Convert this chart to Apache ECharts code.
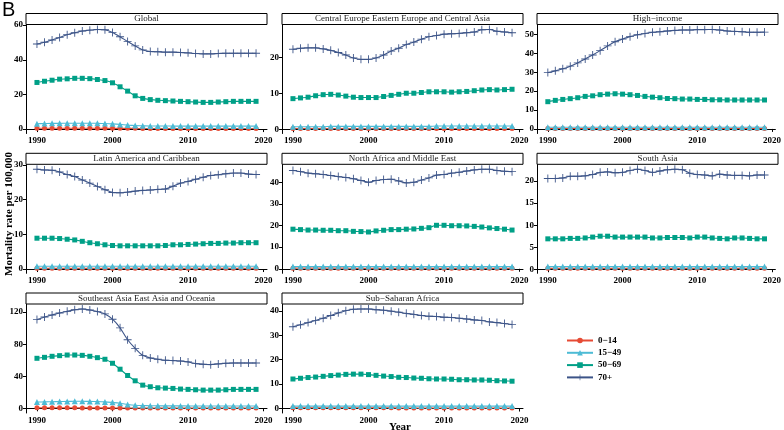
<!DOCTYPE html>
<html><head><meta charset="utf-8">
<script src="https://cdn.jsdelivr.net/npm/echarts@6/dist/echarts.min.js"></script>
<style>html,body{margin:0;padding:0;background:#fff}#c{width:784px;height:430px}</style>
</head><body><div id="c"></div>
<script>
const years = [1990,1991,1992,1993,1994,1995,1996,1997,1998,1999,2000,2001,2002,2003,2004,2005,2006,2007,2008,2009,2010,2011,2012,2013,2014,2015,2016,2017,2018,2019];
const ageGroups = ['0−14','15−49','50−69','70+'];
const panelTitles = ['Global','Central Europe Eastern Europe and Central Asia','High−income','Latin America and Caribbean','North Africa and Middle East','South Asia','Southeast Asia East Asia and Oceania','Sub−Saharan Africa'];
const xTicks = [1990,2000,2010,2020];
const yTicks = [[0,20,40,60],[0,10,20],[0,10,20,30,40,50],[0,10,20,30],[0,10,20,30,40],[0,5,10,15,20],[0,40,80,120],[0,10,20,30,40]];

// Global
const global_0_14 = [0.5,0.5,0.5,0.5,0.5,0.5,0.5,0.5,0.5,0.4,0.4,0.4,0.4,0.4,0.3,0.3,0.3,0.3,0.3,0.3,0.3,0.3,0.3,0.3,0.3,0.3,0.3,0.3,0.3,0.3];
const global_15_49 = [3.1,3.2,3.3,3.3,3.4,3.4,3.4,3.4,3.3,3.2,3.0,2.7,2.3,2.0,1.9,1.8,1.8,1.8,1.7,1.7,1.7,1.7,1.7,1.7,1.7,1.7,1.7,1.7,1.7,1.7];
const global_50_69 = [26.9,27.6,28.2,28.8,29.0,29.3,29.3,29.1,28.6,28.0,26.7,24.4,21.9,19.2,17.7,17.0,16.6,16.4,16.2,16.0,15.8,15.6,15.4,15.4,15.6,15.8,16.0,16.0,16.0,16.0];
const global_70 = [49.1,50.1,51.4,52.8,54.5,55.6,56.6,57.1,57.5,57.3,55.8,53.3,50.5,48.0,45.7,44.8,44.6,44.4,44.4,44.2,44.0,43.6,43.4,43.4,43.6,43.8,43.8,43.8,43.8,43.8];
// Central Europe Eastern Europe and Central Asia
const ce_0_14 = [0.2,0.2,0.2,0.2,0.2,0.2,0.2,0.2,0.2,0.2,0.2,0.2,0.2,0.2,0.2,0.2,0.2,0.2,0.2,0.2,0.2,0.2,0.2,0.2,0.2,0.2,0.2,0.2,0.2,0.2];
const ce_15_49 = [0.7,0.7,0.7,0.7,0.7,0.8,0.8,0.8,0.8,0.8,0.8,0.8,0.8,0.8,0.8,0.8,0.8,0.8,0.8,0.9,0.9,0.9,0.9,0.9,0.9,0.9,0.9,0.9,0.9,0.9];
const ce_50_69 = [8.5,8.7,8.9,9.3,9.6,9.7,9.5,9.2,8.9,8.8,8.8,8.8,9.1,9.4,9.7,10.0,10.0,10.2,10.4,10.4,10.4,10.3,10.4,10.5,10.7,10.9,11.0,10.9,11.0,11.1];
const ce_70 = [22.2,22.5,22.6,22.6,22.3,21.9,21.3,20.6,19.8,19.4,19.4,19.8,20.6,21.7,22.5,23.5,24.2,25.0,25.7,26.0,26.4,26.5,26.6,26.8,27.0,27.6,27.7,27.2,27.0,26.8];
// High-income
const hi_0_14 = [0.2,0.2,0.2,0.2,0.2,0.2,0.2,0.2,0.2,0.2,0.2,0.2,0.2,0.2,0.2,0.2,0.2,0.2,0.2,0.2,0.2,0.2,0.2,0.2,0.2,0.2,0.2,0.2,0.2,0.2];
const hi_15_49 = [0.9,0.9,0.9,0.9,0.9,0.9,0.9,0.9,0.9,0.9,0.9,0.9,0.9,0.9,0.9,0.9,0.9,0.9,0.9,0.9,0.9,0.9,0.9,0.9,0.9,0.9,0.9,0.9,0.9,0.9];
const hi_50_69 = [14.4,15.1,15.6,16.0,16.5,17.2,17.5,18.1,18.4,18.6,18.4,18.1,17.7,17.2,16.8,16.5,16.1,16.0,15.8,15.8,15.6,15.6,15.4,15.4,15.3,15.3,15.3,15.3,15.3,15.3];
const hi_70 = [29.8,30.7,31.8,33.2,34.9,37.0,39.1,41.4,43.9,46.1,47.5,48.8,49.8,50.5,51.1,51.4,51.8,52.1,52.3,52.3,52.5,52.5,52.6,52.3,51.8,51.6,51.4,51.1,51.1,51.2];
// Latin America and Caribbean
const la_0_14 = [0.2,0.2,0.2,0.2,0.2,0.2,0.2,0.2,0.2,0.2,0.2,0.2,0.2,0.2,0.2,0.2,0.2,0.2,0.2,0.2,0.2,0.2,0.2,0.2,0.2,0.2,0.2,0.2,0.2,0.2];
const la_15_49 = [0.8,0.8,0.8,0.8,0.8,0.8,0.8,0.8,0.8,0.8,0.8,0.8,0.8,0.8,0.8,0.8,0.8,0.8,0.8,0.8,0.8,0.8,0.8,0.8,0.8,0.8,0.8,0.8,0.8,0.8];
const la_50_69 = [8.9,8.9,8.9,8.8,8.6,8.4,8.0,7.6,7.3,7.0,6.8,6.7,6.7,6.7,6.7,6.7,6.7,6.8,7.0,7.0,7.1,7.2,7.3,7.4,7.4,7.5,7.5,7.6,7.6,7.6];
const la_70 = [28.8,28.6,28.5,28.0,27.3,26.7,25.7,24.8,23.8,22.9,22.1,22.0,22.2,22.5,22.7,22.8,23.0,23.1,23.9,24.8,25.3,25.9,26.5,27.0,27.2,27.5,27.7,27.7,27.4,27.3];
// North Africa and Middle East
const na_0_14 = [0.3,0.3,0.3,0.3,0.3,0.3,0.3,0.3,0.2,0.2,0.2,0.2,0.2,0.2,0.2,0.2,0.2,0.2,0.2,0.2,0.2,0.2,0.2,0.2,0.2,0.2,0.2,0.2,0.2,0.2];
const na_15_49 = [1.0,1.0,1.0,1.0,1.0,1.0,1.0,1.0,1.0,1.0,1.0,1.0,1.0,1.0,1.0,1.0,1.0,1.0,1.0,1.0,1.0,1.0,1.0,1.0,1.0,1.0,1.0,1.0,1.0,1.0];
const na_50_69 = [18.3,18.1,17.9,17.9,17.8,17.8,17.6,17.6,17.3,17.2,17.0,17.5,17.8,18.1,18.1,18.3,18.4,18.7,19.0,20.1,20.1,19.9,19.9,19.8,19.6,19.3,18.9,18.6,18.3,17.9];
const na_70 = [45.4,44.9,44.2,43.9,43.6,43.1,42.6,42.2,41.6,40.8,40.0,40.8,41.3,41.4,40.6,39.7,40.0,41.0,42.0,43.3,43.6,44.2,44.6,45.2,45.7,46.0,46.0,45.4,45.1,44.9];
// South Asia
const sa_0_14 = [0.2,0.2,0.2,0.2,0.2,0.2,0.2,0.2,0.2,0.2,0.2,0.2,0.2,0.2,0.2,0.2,0.2,0.2,0.2,0.2,0.2,0.2,0.2,0.2,0.2,0.2,0.2,0.2,0.2,0.2];
const sa_15_49 = [0.6,0.6,0.6,0.6,0.6,0.6,0.6,0.6,0.6,0.6,0.6,0.6,0.6,0.6,0.6,0.6,0.6,0.6,0.6,0.6,0.6,0.6,0.6,0.6,0.6,0.6,0.6,0.6,0.6,0.6];
const sa_50_69 = [6.9,6.9,6.9,7.0,7.0,7.1,7.3,7.5,7.5,7.3,7.3,7.3,7.3,7.3,7.1,7.1,7.2,7.2,7.2,7.1,7.3,7.3,7.1,7.0,6.9,7.1,7.1,7.0,6.9,6.9];
const sa_70 = [20.6,20.6,20.7,21.1,21.1,21.2,21.5,22.0,22.1,21.9,22.0,22.4,22.7,22.4,22.0,22.3,22.6,22.7,22.6,21.8,21.5,21.4,21.2,21.6,21.4,21.3,21.3,21.2,21.4,21.4];
// Southeast Asia East Asia and Oceania
const sea_0_14 = [0.6,0.6,0.6,0.6,0.6,0.6,0.5,0.5,0.5,0.5,0.5,0.4,0.4,0.4,0.4,0.3,0.3,0.3,0.3,0.3,0.3,0.3,0.3,0.3,0.3,0.3,0.3,0.3,0.3,0.3];
const sea_15_49 = [7.8,8.0,8.2,8.4,8.6,8.7,8.7,8.6,8.4,8.0,7.4,6.2,4.8,3.8,3.4,3.2,3.1,3.0,3.0,3.0,2.9,2.9,2.9,2.9,2.9,2.9,2.9,2.9,2.9,2.9];
const sea_50_69 = [62.4,63.6,64.9,65.7,66.5,66.5,66.1,64.9,63.2,61.2,56.2,48.8,40.9,34.3,28.9,26.9,25.6,25.2,24.8,24.0,23.6,23.1,22.7,22.7,22.7,23.1,23.6,23.6,23.6,23.6];
const sea_70 = [110.7,114.0,116.5,119.0,121.0,123.0,124.0,122.7,120.7,117.8,111.2,100.4,85.5,74.8,66.1,62.8,61.2,59.9,59.5,59.1,57.9,55.8,55.0,54.5,55.4,56.2,56.6,56.6,56.6,56.6];
// Sub-Saharan Africa
const ssa_0_14 = [0.3,0.3,0.3,0.3,0.3,0.3,0.3,0.3,0.3,0.3,0.3,0.3,0.3,0.3,0.2,0.2,0.2,0.2,0.2,0.2,0.2,0.2,0.2,0.2,0.2,0.2,0.2,0.2,0.2,0.2];
const ssa_15_49 = [1.0,1.0,1.0,1.0,1.0,1.0,1.0,1.0,1.0,1.0,1.0,1.0,1.0,1.0,1.0,1.0,1.0,1.0,1.0,1.0,1.0,1.0,1.0,1.0,1.0,1.0,1.0,1.0,1.0,1.0];
const ssa_50_69 = [12.1,12.4,12.7,12.9,13.2,13.5,13.7,14.0,14.1,14.1,13.9,13.6,13.3,13.1,12.8,12.7,12.5,12.4,12.2,12.1,12.1,12.0,11.8,11.8,11.7,11.7,11.6,11.4,11.3,11.2];
const ssa_70 = [33.5,34.3,35.2,36.1,37.0,38.1,39.2,40.1,40.7,40.8,40.8,40.5,40.3,39.9,39.5,39.0,38.6,38.1,37.8,37.7,37.4,37.3,37.0,36.7,36.3,36.1,35.5,35.2,34.8,34.4];

const panelSeries = [
  [global_0_14, global_15_49, global_50_69, global_70],
  [ce_0_14, ce_15_49, ce_50_69, ce_70],
  [hi_0_14, hi_15_49, hi_50_69, hi_70],
  [la_0_14, la_15_49, la_50_69, la_70],
  [na_0_14, na_15_49, na_50_69, na_70],
  [sa_0_14, sa_15_49, sa_50_69, sa_70],
  [sea_0_14, sea_15_49, sea_50_69, sea_70],
  [ssa_0_14, ssa_15_49, ssa_50_69, ssa_70]
];

const colors = ['#E64B35','#4DBBD5','#00A087','#3C5488'];
const plusPath = 'path://M4.45,0H5.55V4.45H10V5.55H5.55V10H4.45V5.55H0V4.45H4.45Z';
const symbols = ['circle','triangle','rect',plusPath];
const symbolSizes = [5,6,5,8];
const FONT = '"Liberation Serif","Times New Roman",serif';

const colLeft = [26, 282, 537];
const rowTop = [24.5, 164.3, 304];
const W = 241, H = 109;

const grids = [], xAxes = [], yAxes = [], series = [], graphics = [];
const expandMin = v => v.min - 0.05 * (v.max - v.min);
const expandMax = v => v.max + 0.05 * (v.max - v.min);
const plainLabel = v => String(v);

panelTitles.forEach((t, i) => {
  const r = Math.floor(i / 3), c = i % 3;
  const left = colLeft[c], top = rowTop[r];
  grids.push({left: left, top: top, width: W, height: H, containLabel: false});
  xAxes.push({
    type: 'value', gridIndex: i, min: expandMin, max: expandMax,
    axisLine: {show: true, lineStyle: {color: '#000', width: 1}},
    axisTick: {show: true, length: 3, customValues: xTicks, lineStyle: {color: '#000'}},
    axisLabel: {customValues: xTicks, formatter: plainLabel, color: '#000', fontFamily: FONT, fontWeight: 'bold', fontSize: 9, margin: 3},
    splitLine: {show: false}
  });
  yAxes.push({
    type: 'value', gridIndex: i, min: expandMin, max: expandMax,
    axisLine: {show: true, lineStyle: {color: '#000', width: 1}},
    axisTick: {show: true, length: 3, customValues: yTicks[i], lineStyle: {color: '#000'}},
    axisLabel: {customValues: yTicks[i], formatter: plainLabel, color: '#000', fontFamily: FONT, fontWeight: 'bold', fontSize: 9, margin: 3},
    splitLine: {show: false}
  });
  panelSeries[i].forEach((arr, k) => {
    series.push({
      name: ageGroups[k], type: 'line', xAxisIndex: i, yAxisIndex: i,
      data: years.map((y, j) => [y, arr[j]]),
      smooth: 0.25, symbol: symbols[k], symbolSize: symbolSizes[k], showSymbol: true,
      lineStyle: {color: colors[k], width: 1.1},
      itemStyle: {color: colors[k]},
      z: 2 + k, animation: false
    });
  });
  graphics.push({
    type: 'rect', shape: {x: left, y: top - 11, width: W, height: 11},
    style: {fill: '#fff', stroke: '#000', lineWidth: 1}, z: 10
  });
  graphics.push({
    type: 'text', x: left + W / 2, y: top - 5.5, z: 11,
    style: {text: t, fontFamily: FONT, fontSize: 9, fill: '#1a1a1a', align: 'center', verticalAlign: 'middle'}
  });
});

graphics.push({type: 'text', x: 2, y: 0, style: {text: 'B', fontFamily: '"Liberation Sans",Arial,sans-serif', fontSize: 20, fill: '#000', align: 'left', verticalAlign: 'top'}});
graphics.push({type: 'text', x: 400, y: 427, style: {text: 'Year', fontFamily: FONT, fontWeight: 'bold', fontSize: 11, fill: '#000', align: 'center', verticalAlign: 'middle'}});
graphics.push({type: 'text', x: 9, y: 214, rotation: Math.PI / 2, style: {text: 'Mortality rate per 100,000', fontFamily: FONT, fontWeight: 'bold', fontSize: 11, fill: '#000', align: 'center', verticalAlign: 'middle'}});

const chart = echarts.init(document.getElementById('c'), null, {renderer: 'canvas'});
chart.setOption({
  animation: false,
  backgroundColor: '#fff',
  color: colors,
  grid: grids, xAxis: xAxes, yAxis: yAxes, series: series,
  legend: {
    data: ageGroups, orient: 'vertical', left: 566, top: 336,
    itemWidth: 26, itemHeight: 7, itemGap: 3.3, padding: 0,
    textStyle: {fontFamily: FONT, fontWeight: 'bold', fontSize: 9, color: '#000', lineHeight: 9}
  },
  graphic: {elements: graphics}
});
</script>
</body></html>
